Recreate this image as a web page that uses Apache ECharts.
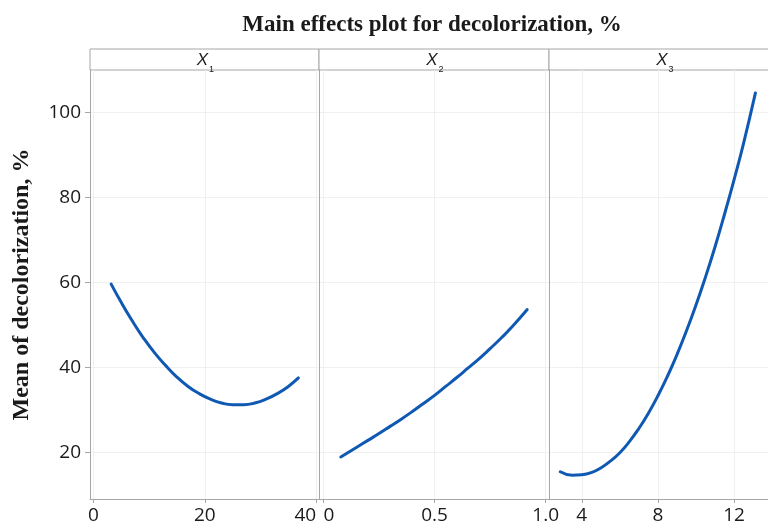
<!DOCTYPE html>
<html>
<head>
<meta charset="utf-8">
<script src="https://cdn.jsdelivr.net/npm/echarts@6/dist/echarts.min.js"></script>
<style>
  html, body { margin: 0; padding: 0; background: #fff; }
  #chart { width: 768px; height: 525px; }
</style>
</head>
<body>
<div id="chart"></div>
<script>
// values
const x1Vals = [3.2, 5, 7, 9, 11, 13, 15, 17, 19, 21, 23, 25, 27, 29, 31, 33, 35, 36.8];
const y1Vals = [59.6, 55.3, 50.9, 46.9, 43.4, 40.4, 37.7, 35.5, 33.8, 32.5, 31.6, 31.2, 31.2, 31.6, 32.5, 33.8, 35.5, 37.5];

const x2Vals = [0.078, 0.15, 0.2, 0.25, 0.3, 0.35, 0.4, 0.45, 0.5, 0.55, 0.6, 0.65, 0.7, 0.75, 0.8, 0.85, 0.917];
const y2Vals = [18.9, 21.2, 22.8, 24.4, 26.1, 27.8, 29.6, 31.5, 33.4, 35.5, 37.6, 39.8, 42.0, 44.4, 46.9, 49.6, 53.6];

const x3Vals = [2.87, 3.5, 4, 4.5, 5, 5.5, 6, 6.5, 7, 7.5, 8, 8.5, 9, 9.5, 10, 10.5, 11, 11.5, 12, 12.5, 13.12];
const y3Vals = [15.4, 14.6, 14.7, 15.2, 16.3, 17.9, 19.9, 22.5, 25.6, 29.2, 33.3, 37.9, 43.0, 48.6, 54.7, 61.3, 68.4, 76.1, 84.2, 92.8, 104.6];

const x1Ticks = [0, 20, 40];
const x2Ticks = [0, 0.5, 1.0];
const x3Ticks = [4, 8, 12];
const yTicks = [20, 40, 60, 80, 100];

const panelNames = ["1", "2", "3"];

const axisGray = "#a6a6a6";
const gridGray = "#f0f0f0";
const lineBlue = "#0f59b3";
const tickFont = "'Open Sans', 'Noto Sans', sans-serif";
const serifFont = "'Liberation Serif', 'Times New Roman', serif";

const chart = echarts.init(document.getElementById("chart"));

const grids = [
  { left: 90, top: 70, width: 229, height: 430 },
  { left: 319, top: 70, width: 230, height: 430 },
  { left: 549, top: 70, width: 230, height: 430 },
];

function xAxisFor(idx, min, max, ticks, extra) {
  return {
    type: "value",
    gridIndex: idx,
    min: min,
    max: max,
    axisLine: { show: true, onZero: false, lineStyle: { color: axisGray, width: 1 } },
    axisTick: {
      show: true,
      length: 4,
      customValues: ticks,
      lineStyle: { color: axisGray },
    },
    axisLabel: Object.assign({
      customValues: ticks,
      color: "#1a1a1a",
      fontFamily: tickFont,
      fontSize: 19,
      margin: 7,
    }, extra || {}),
    splitLine: { show: true, lineStyle: { color: gridGray, width: 1 } },
  };
}

function yAxisFor(idx) {
  const first = idx === 0;
  return {
    type: "value",
    gridIndex: idx,
    min: 9,
    max: 110,
    name: first ? "Mean of decolorization, %" : "",
    nameLocation: "middle",
    nameGap: 56,
    nameRotate: 90,
    nameTextStyle: {
      fontFamily: serifFont,
      fontWeight: "bold",
      fontSize: 24,
      color: "#1a1a1a",
    },
    axisLine: { show: true, onZero: false, lineStyle: { color: axisGray, width: 1 } },
    axisTick: {
      show: first,
      length: 5,
      customValues: yTicks,
      lineStyle: { color: axisGray },
    },
    axisLabel: {
      show: first,
      customValues: yTicks,
      color: "#1a1a1a",
      fontFamily: tickFont,
      fontSize: 19,
      margin: 9,
    },
    splitLine: { show: true, lineStyle: { color: gridGray, width: 1 } },
  };
}

function pairs(xs, ys) {
  return xs.map((x, i) => [x, ys[i]]);
}

function lineSeries(idx, data) {
  return {
    type: "line",
    xAxisIndex: idx,
    yAxisIndex: idx,
    data: data,
    smooth: true,
    showSymbol: false,
    symbol: "none",
    lineStyle: { color: lineBlue, width: 3, cap: "round", join: "round" },
  };
}

// strip headers above each panel
const stripGraphics = [];
grids.forEach((g, i) => {
  stripGraphics.push({
    type: "rect",
    shape: { x: g.left, y: 49, width: g.width, height: 21 },
    style: { fill: "#fff", stroke: axisGray, lineWidth: 1 },
  });
  const cx = g.left + g.width / 2;
  stripGraphics.push({
    type: "text",
    x: cx - 2,
    y: 60,
    style: {
      text: "X",
      font: "italic 17px 'Liberation Sans', Arial, sans-serif",
      fill: "#1a1a1a",
      align: "center",
      verticalAlign: "middle",
    },
  });
  stripGraphics.push({
    type: "text",
    x: cx + 7,
    y: 70,
    style: {
      text: panelNames[i],
      font: "9px 'Liberation Sans', Arial, sans-serif",
      fill: "#1a1a1a",
      align: "center",
      verticalAlign: "middle",
    },
  });
});

chart.setOption({
  backgroundColor: "#fff",
  animation: false,
  title: {
    text: "Main effects plot for decolorization, %",
    left: 427,
    top: 9,
    textAlign: "center",
    textStyle: {
      fontFamily: serifFont,
      fontWeight: "bold",
      fontSize: 23,
      color: "#1a1a1a",
    },
  },
  grid: grids,
  xAxis: [
    xAxisFor(0, -0.6, 40.5, x1Ticks, { alignMaxLabel: "right" }),
    xAxisFor(1, -0.02, 1.015, x2Ticks, {
      alignMinLabel: "left",
      formatter: (v) => (v === 0 ? "0" : v.toFixed(1)),
    }),
    xAxisFor(2, 2.28, 13.78, x3Ticks),
  ],
  yAxis: [yAxisFor(0), yAxisFor(1), yAxisFor(2)],
  series: [
    lineSeries(0, pairs(x1Vals, y1Vals)),
    lineSeries(1, pairs(x2Vals, y2Vals)),
    lineSeries(2, pairs(x3Vals, y3Vals)),
  ],
  graphic: stripGraphics,
});

window.addEventListener("resize", () => {
  chart.resize();
});
</script>
</body>
</html>
